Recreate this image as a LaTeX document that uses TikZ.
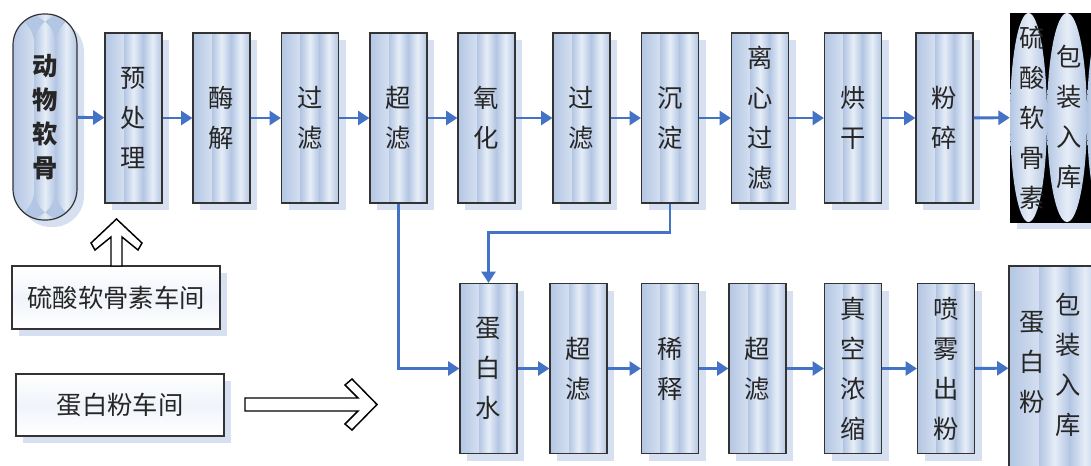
\documentclass[tikz,border=0pt]{standalone}
\usepackage{fontspec}
\newfontfamily\cjk{Noto Sans CJK SC}
\usetikzlibrary{arrows.meta,shadows,shapes.geometric,calc}
\newlength\px
\setlength\px{0.75pt}
\definecolor{boxblue}{HTML}{B3C6E3}
\definecolor{boxlight}{HTML}{E6EDF7}
\definecolor{shadowblue}{HTML}{D6E0F0}
\definecolor{flowblue}{HTML}{4472C4}
\begin{document}
\begin{tikzpicture}[x=0.75pt,y=-0.75pt,
    txt/.style={font=\cjk\fontsize{19}{30}\selectfont,text=black!85,align=center,inner sep=0pt},
    stage/.style={txt,draw=black!80,line width=0.9pt,fill=boxblue,minimum width=57\px,minimum height=170\px,
      general shadow={fill=shadowblue,shadow xshift=7\px,shadow yshift=-7\px},
      path picture={\foreach \k in {0,1,2}
        \shade[left color=boxblue,right color=boxblue,middle color=boxlight]
          ($(path picture bounding box.north west)!\k/3!(path picture bounding box.north east)$) rectangle
          ($(path picture bounding box.south west)!{(\k+1)/3}!(path picture bounding box.south east)$);}},
    shop/.style={txt,draw=black!80,line width=0.9pt,top color=white,bottom color=white,middle color=boxlight!60,
      minimum width=208\px,minimum height=63\px,
      general shadow={fill=shadowblue,shadow xshift=7\px,shadow yshift=-7\px}},
    lens/.style={ellipse,inner sep=0pt,left color=boxblue,right color=boxblue,middle color=boxlight},
    flow/.style={draw=flowblue,line width=2.2pt,-{Triangle[length=8.5pt,width=10.5pt]}},
    hollow/.style={draw=black,line width=1.1pt,fill=white,line join=miter}]
  \useasboundingbox (0,0) rectangle (1091,465);
  \clip (0,0) rectangle (1091,465);
  \path
    (45,117) node[stage,rounded corners=31\px,minimum width=64\px,minimum height=206\px,
      font=\cjk\bfseries\fontsize{19}{25.5}\selectfont] (raw) {动\\物\\软\\骨}
    (133.5,118) node[stage] (pre) {预\\处\\理}
    (221.5,118) node[stage] (enz) {酶\\解}
    (310,118) node[stage] (filta) {过\\滤}
    (398.5,118) node[stage] (ufa) {超\\滤}
    (486.5,118) node[stage] (oxi) {氧\\化}
    (581.5,118) node[stage] (filtb) {过\\滤}
    (670,118) node[stage] (prec) {沉\\淀}
    (760,118) node[stage] (cent) {离\\心\\过\\滤}
    (853,118) node[stage] (dry) {烘\\干}
    (944.5,118) node[stage] (mill) {粉\\碎}
    (1055,117.5) node[draw=black,fill=black,minimum width=90\px,minimum height=209\px,
      general shadow={fill=shadowblue,shadow xshift=7\px,shadow yshift=-7\px}] (cs) {};
  \path
    (1028.5,117.5) node[lens,minimum width=37\px,minimum height=209\px] (csl) {}
    (1067,117.5) node[lens,minimum width=40\px,minimum height=209\px] (packl) {}
    (1107,117.5) node[lens,minimum width=40\px,minimum height=209\px] (restl) {}
    (1032,118) node[txt] (cstxt) {硫\\酸\\软\\骨\\素}
    (1069,117) node[txt] (cspack) {包\\装\\入\\库};
  \path
    (488.5,368.5) node[stage] (pw) {蛋\\白\\水}
    (578.5,368.5) node[stage] (ufb) {超\\滤}
    (670,368.5) node[stage] (dil) {稀\\释}
    (757.5,368.5) node[stage] (ufc) {超\\滤}
    (853,368.5) node[stage] (conc) {真\\空\\浓\\缩}
    (946,368.5) node[stage] (spray) {喷\\雾\\出\\粉}
    (1054.5,368) node[stage,minimum width=91\px,minimum height=204\px] (pp) {}
    (1032,362) node[txt] (pptxt) {蛋\\白\\粉}
    (1068,365) node[txt] (pppack) {包\\装\\入\\库};
  \path
    (116,297.5) node[shop] (csshop) {硫酸软骨素车间}
    (120,405) node[shop,minimum height=62\px] (ppshop) {蛋白粉车间};
  \begin{scope}[flow]
    \draw (raw) -- (pre);
    \draw (pre) -- (enz);
    \draw (enz) -- (filta);
    \draw (filta) -- (ufa);
    \draw (ufa) -- (oxi);
    \draw (oxi) -- (filtb);
    \draw (filtb) -- (prec);
    \draw (prec) -- (cent);
    \draw (cent) -- (dry);
    \draw (dry) -- (mill);
    \draw (mill) -- (cs);
    \draw (ufa) |- (pw);
    \draw (prec.south) -- ++(0,29) -| (pw);
    \draw (pw) -- (ufb);
    \draw (ufb) -- (dil);
    \draw (dil) -- (ufc);
    \draw (ufc) -- (conc);
    \draw (conc) -- (spray);
    \draw (spray) -- (pp);
  \end{scope}
  \draw[hollow] (111,266) -- (111,237) -- (95,250) -- (91,243) -- (116.5,219)
    -- (142,243) -- (138,250) -- (122,237) -- (122,266) -- cycle;
  \draw[hollow] (245,398) -- (358,398) -- (345,385) -- (352,379) -- (377,404.5)
    -- (352,430) -- (345,424) -- (358,411) -- (245,411) -- cycle;
\end{tikzpicture}
\end{document}
